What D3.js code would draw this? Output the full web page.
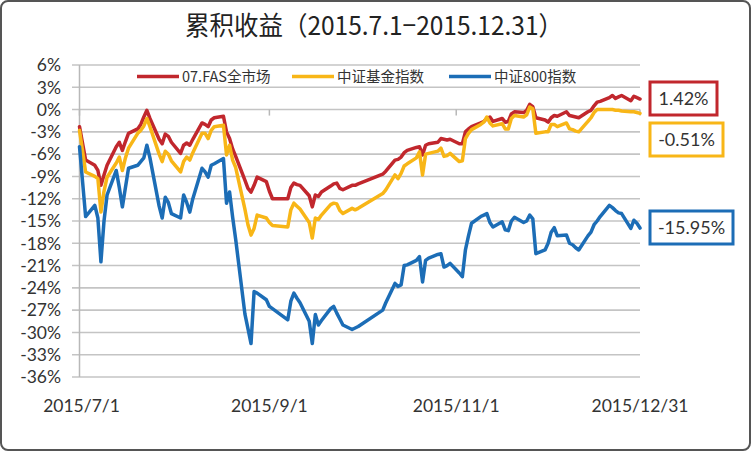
<!DOCTYPE html>
<html>
<head>
<meta charset="utf-8">
<script src="https://cdn.jsdelivr.net/npm/d3@7"></script>
<style>
  html, body { margin: 0; padding: 0; background: #fff; }
  svg { display: block; }
</style>
</head>
<body>
<svg id="chart" width="752" height="452"></svg>
<script>
// ---------------- DATA ----------------
const dates = [
"2015-07-01","2015-07-03","2015-07-06","2015-07-07","2015-07-08","2015-07-09","2015-07-10",
"2015-07-13","2015-07-14","2015-07-15","2015-07-16","2015-07-17",
"2015-07-20","2015-07-21","2015-07-22","2015-07-23","2015-07-24",
"2015-07-27","2015-07-28","2015-07-29","2015-07-30","2015-07-31",
"2015-08-03","2015-08-04","2015-08-05","2015-08-06","2015-08-07",
"2015-08-10","2015-08-11","2015-08-12","2015-08-13","2015-08-14",
"2015-08-17","2015-08-18","2015-08-19","2015-08-20","2015-08-21",
"2015-08-24","2015-08-25","2015-08-26","2015-08-27","2015-08-28",
"2015-08-31","2015-09-01","2015-09-02",
"2015-09-07","2015-09-08","2015-09-09","2015-09-10","2015-09-11",
"2015-09-14","2015-09-15","2015-09-16","2015-09-17","2015-09-18",
"2015-09-21","2015-09-22","2015-09-23","2015-09-24","2015-09-25",
"2015-09-28","2015-09-29","2015-09-30",
"2015-10-08","2015-10-09",
"2015-10-12","2015-10-13","2015-10-14","2015-10-15","2015-10-16",
"2015-10-19","2015-10-20","2015-10-21","2015-10-22","2015-10-23",
"2015-10-26","2015-10-27","2015-10-28","2015-10-29","2015-10-30",
"2015-11-02","2015-11-03","2015-11-04","2015-11-05","2015-11-06",
"2015-11-09","2015-11-10","2015-11-11","2015-11-12","2015-11-13",
"2015-11-16","2015-11-17","2015-11-18","2015-11-19","2015-11-20",
"2015-11-23","2015-11-24","2015-11-25","2015-11-26","2015-11-27",
"2015-11-30","2015-12-01","2015-12-02","2015-12-03","2015-12-04",
"2015-12-07","2015-12-08","2015-12-09","2015-12-10","2015-12-11",
"2015-12-14","2015-12-15","2015-12-16","2015-12-17","2015-12-18",
"2015-12-21","2015-12-22","2015-12-23","2015-12-24","2015-12-25",
"2015-12-28","2015-12-29","2015-12-30","2015-12-31"
];

// 07.FAS全市场 (%)
const fasMarket = [
-2.3,-6.8,-7.5,-8.2,-10.2,-8.8,-7.5,
-5.0,-4.4,-5.5,-4.3,-3.2,
-2.6,-2.0,-1.0,-0.1,-1.2,
-4.0,-4.6,-3.3,-3.6,-4.4,
-5.9,-4.8,-4.5,-4.8,-4.0,
-1.8,-2.0,-2.3,-1.4,-1.1,
-0.9,-3.0,-3.9,-5.3,-6.3,
-9.5,-10.6,-11.1,-10.2,-9.1,
-9.7,-11.0,-12.0,
-12.0,-10.5,-9.9,-10.1,-10.2,
-11.6,-13.1,-11.5,-11.7,-11.1,
-10.3,-10.0,-9.9,-10.6,-10.8,
-10.2,-10.2,-10.0,
-8.7,-8.3,
-6.8,-6.7,-6.4,-5.8,-5.5,
-5.1,-5.0,-6.1,-4.8,-4.6,
-4.4,-3.9,-4.0,-4.1,-4.0,
-4.6,-4.6,-3.0,-2.6,-2.3,
-1.8,-1.6,-1.2,-1.0,-1.6,
-1.2,-1.7,-1.6,-0.6,-0.3,
-0.4,-0.1,0.7,0.4,-1.1,
-1.4,-1.7,-1.1,-0.8,-0.9,
-0.3,-0.8,-0.9,-1.0,-1.1,
-0.3,-0.1,0.5,1.0,1.1,
1.6,1.9,1.5,1.7,1.9,
1.2,1.8,1.6,1.42
];

// 中证基金指数 (%)
const fundIndex = [
-2.8,-8.4,-9.0,-9.3,-13.8,-11.0,-9.1,
-7.2,-6.4,-8.2,-6.5,-5.2,
-3.2,-2.8,-2.2,-1.2,-2.3,
-6.0,-7.0,-5.6,-6.0,-6.9,
-8.4,-7.0,-6.4,-6.8,-5.8,
-3.2,-3.2,-3.9,-2.8,-2.3,
-2.1,-6.1,-4.8,-6.8,-7.8,
-13.4,-15.5,-16.9,-16.0,-14.2,
-14.6,-15.2,-15.6,
-15.8,-13.5,-12.6,-13.0,-13.4,
-15.2,-17.3,-14.6,-14.8,-14.2,
-12.8,-12.6,-12.7,-13.6,-14.0,
-13.3,-13.5,-13.3,
-11.3,-10.8,
-8.8,-9.3,-8.6,-7.6,-7.3,
-6.5,-5.7,-8.8,-6.0,-5.9,
-5.6,-5.2,-6.3,-6.2,-5.9,
-7.0,-6.9,-3.9,-3.2,-2.7,
-2.0,-1.7,-1.0,-1.8,-2.2,
-1.9,-2.6,-2.6,-1.2,-0.8,
-1.0,-0.7,0.35,0.1,-3.2,
-3.0,-3.0,-2.0,-2.0,-2.3,
-1.8,-2.6,-2.7,-2.9,-3.0,
-1.6,-1.1,-0.4,0.0,0.0,
0.0,0.0,-0.1,-0.1,-0.2,
-0.3,-0.3,-0.4,-0.51
];

// 中证800指数 (%)
const csi800 = [
-5.0,-14.4,-12.9,-14.6,-20.5,-15.0,-11.5,
-8.2,-10.5,-13.1,-10.5,-7.9,
-7.5,-7.0,-6.5,-4.8,-6.5,
-13.0,-14.6,-11.8,-12.5,-14.0,
-14.6,-11.5,-12.5,-13.8,-12.0,
-7.9,-8.4,-9.1,-7.5,-7.3,
-6.6,-12.6,-11.1,-14.5,-17.5,
-27.5,-29.5,-31.5,-24.5,-24.7,
-25.6,-26.5,-26.8,
-28.3,-25.8,-24.7,-25.4,-26.0,
-28.5,-31.5,-27.6,-29.0,-28.4,
-26.8,-26.5,-27.4,-28.2,-29.0,
-29.6,-29.4,-29.2,
-27.0,-26.0,
-23.4,-23.8,-23.6,-21.0,-20.9,
-20.3,-19.8,-23.2,-20.3,-20.0,
-19.5,-19.4,-21.2,-21.0,-20.7,
-22.0,-22.5,-18.9,-17.0,-15.3,
-14.4,-14.2,-14.0,-15.2,-15.8,
-15.1,-16.2,-16.3,-15.0,-14.5,
-15.2,-15.0,-14.2,-14.7,-19.4,
-18.9,-18.0,-16.5,-15.9,-17.0,
-16.9,-18.0,-18.2,-18.6,-18.9,
-17.0,-16.5,-15.5,-15.0,-14.4,
-12.9,-13.2,-13.6,-13.9,-14.0,
-16.0,-14.9,-15.3,-15.95
];

const seriesNames = ["07.FAS全市场", "中证基金指数", "中证800指数"];
const seriesColors = ["#c1272d", "#f8b617", "#1c6db6"];
const endLabels = ["1.42%", "-0.51%", "-15.95%"];
const yTickValues = [6, 3, 0, -3, -6, -9, -12, -15, -18, -21, -24, -27, -30, -33, -36];
const xTickDates = ["2015-07-01", "2015-09-01", "2015-11-01", "2015-12-31"];
const xTickLabels = ["2015/7/1", "2015/9/1", "2015/11/1", "2015/12/31"];
const titleText = "累积收益（2015.7.1−2015.12.31）";

// ---------------- DRAW ----------------
const svg = d3.select("#chart");
const parse = d3.timeParse("%Y-%m-%d");
const dateObjs = dates.map(parse);
const allSeries = [fasMarket, fundIndex, csi800];

const x = d3.scaleTime()
  .domain([parse("2015-07-01"), parse("2015-12-31")])
  .range([79.5, 640]);
const y = d3.scaleLinear().domain([-36, 6]).range([377, 65]);

const labelFont = "Lato, 'Open Sans', sans-serif";
const cjkFont = "'Noto Sans CJK SC', 'Noto Sans', sans-serif";

// outer frame
svg.append("rect")
  .attr("x", 1).attr("y", 1).attr("width", 749).attr("height", 449)
  .attr("rx", 7).attr("ry", 7)
  .attr("fill", "#fff").attr("stroke", "#555").attr("stroke-width", 2);

// title
svg.append("text")
  .attr("x", 185).attr("y", 35)
  .attr("textLength", 378).attr("lengthAdjust", "spacingAndGlyphs")
  .attr("font-family", cjkFont).attr("font-size", 26)
  .attr("fill", "#222")
  .text(titleText);

// gridlines
const grid = svg.append("g");
grid.selectAll("line").data(yTickValues).join("line")
  .attr("x1", 72).attr("x2", 640)
  .attr("y1", d => y(d)).attr("y2", d => y(d))
  .attr("stroke", "#c4c4c4").attr("stroke-width", 1.6);

// y axis line
svg.append("line")
  .attr("x1", 79.5).attr("x2", 79.5).attr("y1", y(6)).attr("y2", y(-36))
  .attr("stroke", "#b8b8b8").attr("stroke-width", 1.5);

// x tick marks on the 0% line
svg.append("g").selectAll("line").data(xTickDates).join("line")
  .attr("x1", d => x(parse(d))).attr("x2", d => x(parse(d)))
  .attr("y1", y(0)).attr("y2", y(0) + 6)
  .attr("stroke", "#b8b8b8").attr("stroke-width", 1.5);

// y labels
svg.append("g").selectAll("text").data(yTickValues).join("text")
  .attr("x", 61).attr("y", d => y(d))
  .attr("dy", "0.36em")
  .attr("text-anchor", "end")
  .attr("font-family", labelFont).attr("font-size", 17.5)
  .attr("fill", "#333")
  .text(d => d + "%");

// x labels
svg.append("g").selectAll("text").data(xTickDates).join("text")
  .attr("x", (d, i) => x(parse(d)) + (i === 0 ? 2 : 0))
  .attr("y", 412)
  .attr("text-anchor", "middle")
  .attr("font-family", labelFont).attr("font-size", 17.5)
  .attr("fill", "#333")
  .text((d, i) => xTickLabels[i]);

// lines
const line = d3.line()
  .x((d, i) => x(dateObjs[i]))
  .y(d => y(d));

allSeries.forEach((vals, k) => {
  svg.append("path")
    .datum(vals)
    .attr("d", line)
    .attr("fill", "none")
    .attr("stroke", seriesColors[k])
    .attr("stroke-width", 3.5)
    .attr("stroke-linejoin", "round")
    .attr("stroke-linecap", "round");
});

// legend
const legendX = [137, 292, 449];
const legend = svg.append("g");
seriesNames.forEach((name, k) => {
  legend.append("line")
    .attr("x1", legendX[k]).attr("x2", legendX[k] + 42)
    .attr("y1", 76.5).attr("y2", 76.5)
    .attr("stroke", seriesColors[k]).attr("stroke-width", 3.5);
  legend.append("text")
    .attr("x", legendX[k] + 45).attr("y", 76.5)
    .attr("dy", "0.36em")
    .attr("font-family", cjkFont).attr("font-size", 14.5)
    .attr("fill", "#333")
    .text(name);
});

// end-value boxes
const boxes = [
  {x: 650, y: 82, w: 67, h: 33},
  {x: 650, y: 123, w: 73, h: 33},
  {x: 650, y: 211, w: 83, h: 33}
];
boxes.forEach((b, k) => {
  svg.append("rect")
    .attr("x", b.x).attr("y", b.y).attr("width", b.w).attr("height", b.h)
    .attr("fill", "#fff")
    .attr("stroke", seriesColors[k]).attr("stroke-width", 3);
  svg.append("text")
    .attr("x", b.x + b.w / 2).attr("y", b.y + b.h / 2)
    .attr("dy", "0.36em")
    .attr("text-anchor", "middle")
    .attr("font-family", labelFont).attr("font-size", 18)
    .attr("fill", "#333")
    .text(endLabels[k]);
});
</script>
</body>
</html>
